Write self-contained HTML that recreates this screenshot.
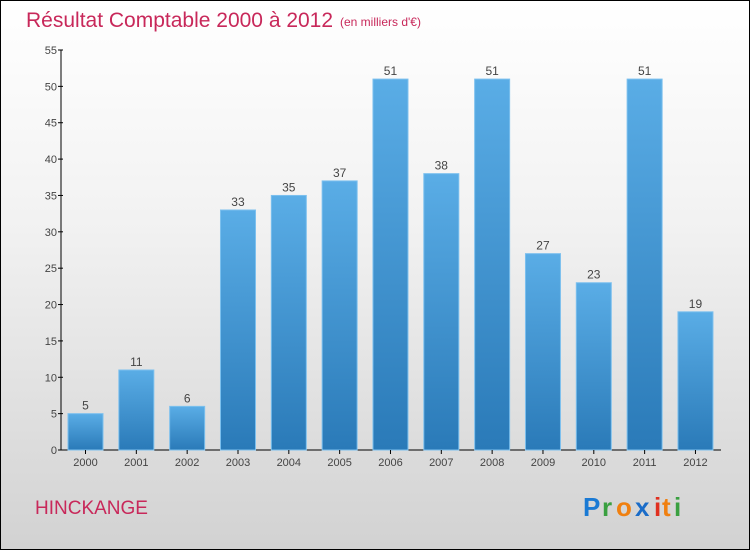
<!DOCTYPE html>
<html><head><meta charset="utf-8"><style>
body{margin:0}
#c{position:relative;width:748px;height:548px;border:1px solid #000;background:linear-gradient(#ffffff,#f2f2f2 40%,#d2d2d2);overflow:hidden;font-family:"Liberation Sans",sans-serif}
</style></head><body>
<div id="c">
<svg width="748" height="548" xmlns="http://www.w3.org/2000/svg" id="s">
<defs><linearGradient id="g" x1="0" y1="0" x2="0" y2="1"><stop offset="0" stop-color="#5aade6"/><stop offset="1" stop-color="#2a7ab8"/></linearGradient></defs>
<text x="25" y="26" font-size="21" fill="#c8285a">Résultat Comptable 2000 à 2012</text>
<text x="339" y="25" font-size="12" fill="#c8285a">(en milliers d'€)</text>
<text x="34" y="513" font-size="19" fill="#c8285a">HINCKANGE</text>
<g font-size="26" font-weight="bold">
<text x="582" y="515" fill="#1a7ad4">P</text><text x="601" y="515" fill="#3aa040">r</text><text x="615" y="515" fill="#f08010">o</text><text x="634" y="515" fill="#1a6cc8">x</text><text x="653" y="515" fill="#e03020">i</text><text x="661" y="515" fill="#f08010">t</text><text x="673" y="515" fill="#3aa040">i</text></g>
<g id="bars"></g>
</svg></div>
<script>
const years=["2000","2001","2002","2003","2004","2005","2006","2007","2008","2009","2010","2011","2012"];
const values=[5,11,6,33,35,37,51,38,51,27,23,51,19];
const yTicks=[0,5,10,15,20,25,30,35,40,45,50,55];
const NS="http://www.w3.org/2000/svg";
const s=document.getElementById('s');
const y0=449,yTop=49,yMax=55,x0=60,step=50.83,bw=35;
const y=v=>y0-(v/yMax)*(y0-yTop);
const xb=i=>67+i*step;
function mk(t,a){const e=document.createElementNS(NS,t);for(const k in a)e.setAttribute(k,a[k]);s.appendChild(e);return e;}
let l=mk('line',{x1:x0,y1:yTop,x2:x0,y2:y0,stroke:'#000'});


l=mk('line',{x1:x0,y1:y0,x2:720,y2:y0,stroke:'#000'});


yTicks.forEach(v=>{
 const t=mk('line',{x1:x0-3,y1:y(v),x2:x0+2,y2:y(v),stroke:'#000'});
 
 
 const tx=mk('text',{x:x0-4,y:y(v)+4,'font-size':11,fill:'#444','text-anchor':'end'});
 tx.textContent=v;
 
 
});
values.forEach((v,i)=>{
 const r=mk('rect',{x:xb(i),y:y(v),width:bw,height:y0-y(v),fill:'url(#g)',stroke:'#7cc0ee','stroke-width':1});
 
 
 const vt=mk('text',{x:xb(i)+bw/2,y:y(v)-4,'font-size':12,fill:'#444','text-anchor':'middle'});
 vt.textContent=v;
 
 
 const tk=mk('line',{x1:xb(i)+bw/2,y1:y0,x2:xb(i)+bw/2,y2:y0+4,stroke:'#000'});
 
 
 const xt=mk('text',{x:xb(i)+bw/2,y:y0+16,'font-size':11,fill:'#444','text-anchor':'middle'});
 xt.textContent=years[i];
 
 
});
</script>
</body></html>
